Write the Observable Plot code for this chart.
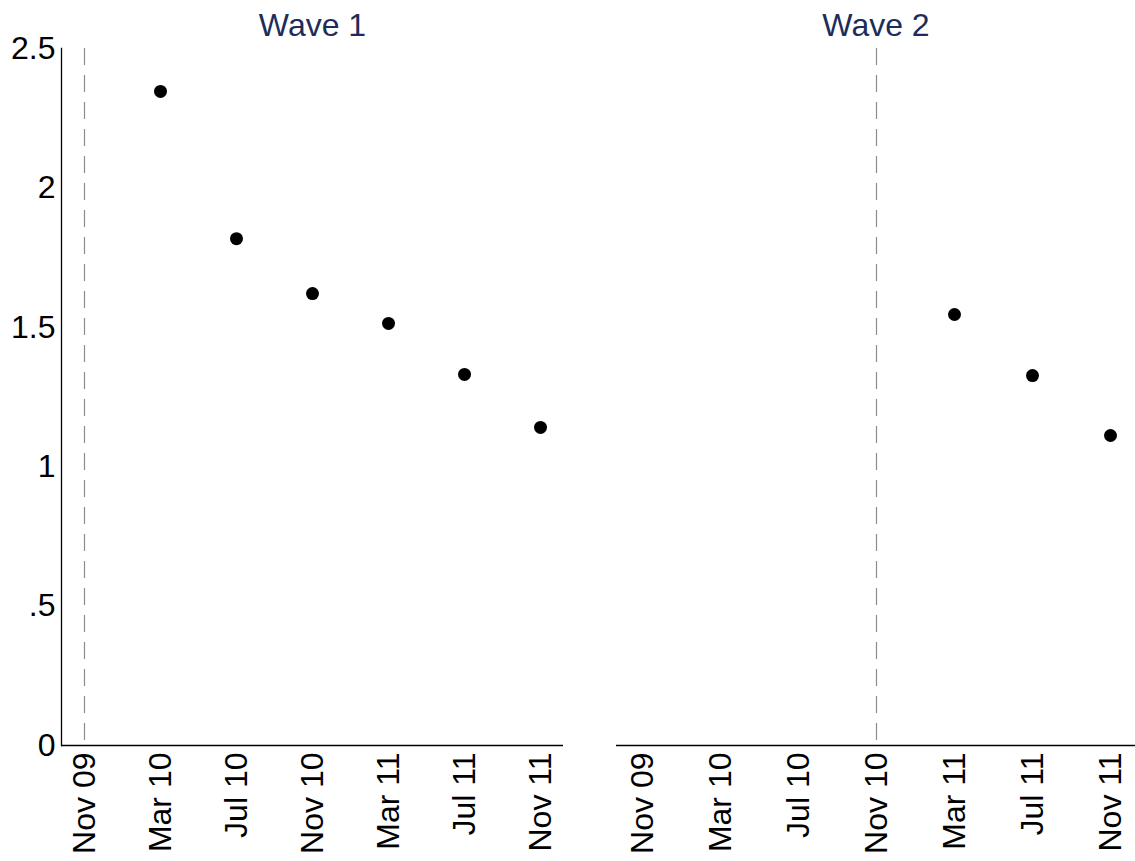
<!DOCTYPE html>
<html>
<head>
<meta charset="utf-8">
<script src="https://cdn.jsdelivr.net/npm/d3@7"></script>
<script src="https://cdn.jsdelivr.net/npm/@observablehq/plot@0.6"></script>
<style>
  html, body { margin: 0; padding: 0; background: #fff; }
  #chart { position: relative; width: 1135px; height: 861px; }
  #chart > div { position: absolute; top: 0; }
</style>
</head>
<body>
<div id="chart"></div>
<script>
// ---- data ----
const periods = ["Nov 09", "Mar 10", "Jul 10", "Nov 10", "Mar 11", "Jul 11", "Nov 11"];
const waves = ["Wave 1", "Wave 2"];
const wave1Periods = ["Mar 10", "Jul 10", "Nov 10", "Mar 11", "Jul 11", "Nov 11"];
const wave1Values = [2.346, 1.818, 1.621, 1.514, 1.331, 1.141];
const wave2Periods = ["Mar 11", "Jul 11", "Nov 11"];
const wave2Values = [1.546, 1.327, 1.112];
const waveStart = ["Nov 09", "Nov 10"];
const yTicks = [0, 0.5, 1, 1.5, 2, 2.5];
const yTickLabels = ["0", ".5", "1", "1.5", "2", "2.5"];

const series = [
  wave1Periods.map((p, i) => ({period: p, value: wave1Values[i]})),
  wave2Periods.map((p, i) => ({period: p, value: wave2Values[i]}))
];

const font = "'Liberation Sans', Arial, Helvetica, sans-serif";
const panels = [
  {left: 0, width: 563, marginLeft: 61},
  {left: 616, width: 519, marginLeft: 0}
];

const root = document.getElementById("chart");

waves.forEach((w, k) => {
  const pnl = panels[k];
  const marks = [
    Plot.ruleX([waveStart[k]], {stroke: "#8c8c8c", strokeWidth: 1.2, strokeDasharray: "17,10"}),
    Plot.ruleY([0], {stroke: "#000", strokeWidth: 1.3}),
    Plot.axisX({tickSize: 0, tickPadding: 7, tickRotate: -90, fontSize: 32, fill: "#000", label: null}),
    Plot.dot(series[k], {x: "period", y: "value", r: 6.5, fill: "#000", stroke: null}),
    Plot.text([w], {frameAnchor: "top", lineAnchor: "bottom", dy: -13, fontSize: 32, fill: "#1c2d5b"})
  ];
  if (k === 0) {
    marks.unshift(Plot.frame({anchor: "left", stroke: "#000", strokeWidth: 1.3}));
    marks.push(Plot.axisY(yTicks, {tickSize: 0, tickPadding: 6, fontSize: 32, fill: "#000", label: null,
      tickFormat: d => yTickLabels[yTicks.indexOf(d)]}));
  }
  const chart = Plot.plot({
    width: pnl.width,
    height: 861,
    marginTop: 48,
    marginBottom: 116,
    marginLeft: pnl.marginLeft,
    marginRight: 0,
    style: {fontFamily: font, background: "transparent", overflow: "visible"},
    x: {type: "point", domain: periods, padding: 0.3},
    y: {domain: [0, 2.5], axis: k === 0 ? undefined : null},
    marks
  });
  const holder = document.createElement("div");
  holder.style.left = pnl.left + "px";
  holder.appendChild(chart);
  root.appendChild(holder);
});
</script>
</body>
</html>
